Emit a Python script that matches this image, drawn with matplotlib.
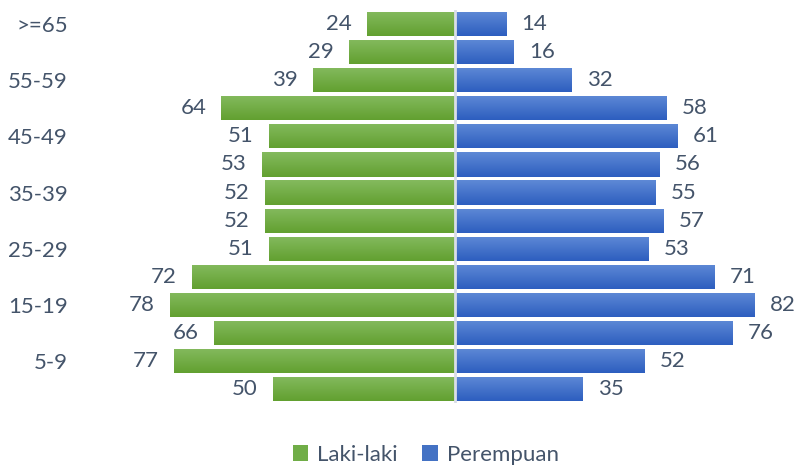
import numpy as np
import matplotlib.pyplot as plt
from matplotlib.colors import LinearSegmentedColormap

# Data (bottom to top)
groups = ["0-4", "5-9", "10-14", "15-19", "20-24", "25-29", "30-34",
          "35-39", "40-44", "45-49", "50-54", "55-59", "60-64", ">=65"]
laki = [50, 77, 66, 78, 72, 51, 52, 52, 53, 51, 64, 39, 29, 24]
perempuan = [35, 52, 76, 82, 71, 53, 57, 55, 56, 61, 58, 32, 16, 14]

txt_color = "#44546A"
plt.rcParams['font.family'] = ['Lato', 'DejaVu Sans']

fig = plt.figure(figsize=(7.96, 4.66), dpi=100)
ax = fig.add_axes([90/796, 0.135, 701/796, 0.8435])

y = np.arange(len(groups))
h = 0.86
bl = ax.barh(y, [-v for v in laki], height=h, color="#70AD47", label="Laki-laki")
bp = ax.barh(y, perempuan, height=h, color="#4472C4", label="Perempuan")

# vertical gradient on the bars
green_cm = LinearSegmentedColormap.from_list("g", ["#62A030", "#84BA5E"])
blue_cm = LinearSegmentedColormap.from_list("b", ["#2D5EBF", "#5E89D6"])
grad = np.linspace(0, 1, 64).reshape(-1, 1)
for bars, cm in ((bl, green_cm), (bp, blue_cm)):
    for p in bars:
        x0, y0 = p.get_x(), p.get_y()
        w, hh = p.get_width(), p.get_height()
        im = ax.imshow(grad, cmap=cm, origin="lower", aspect="auto",
                       extent=(x0, x0 + w, y0, y0 + hh), zorder=2)
        im.set_clip_path(p)

ax.axvline(0, color="#D9DEE8", lw=2, zorder=3)

fs = 16
for yi, v in zip(y, laki):
    ax.annotate(str(v), (-v, yi), xytext=(-11, 0), textcoords="offset points",
                ha="right", va="center", fontsize=fs, color=txt_color)
for yi, v in zip(y, perempuan):
    ax.annotate(str(v), (v, yi), xytext=(11, 0), textcoords="offset points",
                ha="left", va="center", fontsize=fs, color=txt_color)

ax.set_xlim(-100, 92)
ax.set_ylim(-0.5, len(groups) - 0.5)
ax.set_xticks([])
ax.set_yticks(y)
ax.set_yticklabels([g if i % 2 == 1 else "" for i, g in enumerate(groups)],
                   fontsize=fs, color=txt_color)
ax.tick_params(axis="y", length=0, pad=16)
for s in ax.spines.values():
    s.set_visible(False)

fig.legend(handles=[bl, bp], loc="lower center", ncol=2, frameon=False,
           bbox_to_anchor=(0.535, -0.04), fontsize=fs, handlelength=0.7,
           handleheight=0.7, handletextpad=0.4, columnspacing=1.1,
           labelcolor=txt_color)

fig.savefig("out.png", dpi=100)
